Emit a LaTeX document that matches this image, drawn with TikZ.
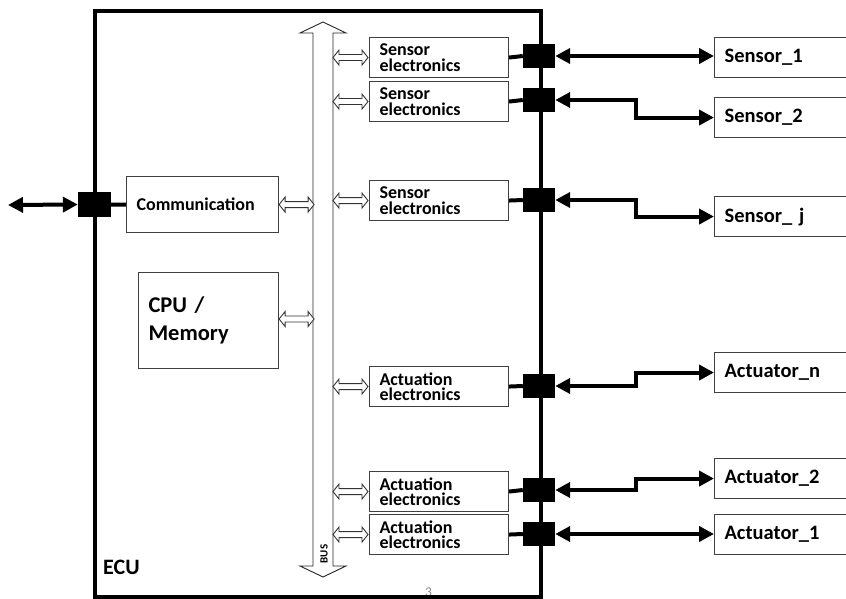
\documentclass[tikz,border=0pt]{standalone}
\usepackage{fontspec}
\setmainfont{Carlito}
\usetikzlibrary{arrows.meta,calc}

\tikzset{
  blk/.tip={Triangle[length=15pt,width=15pt]},
  thinbox/.style={draw=black!75, line width=1.1pt, inner ysep=0pt, inner xsep=10pt,
    align=left, anchor=north west},
  elec/.style={thinbox, text width=119pt, minimum height=40pt,
    font=\fontsize{18}{15.5}\selectfont\bfseries},
  dev/.style={thinbox, text width=160pt, minimum height=40pt,
    font=\fontsize{20.5}{24}\selectfont\bfseries},
  port/.style={fill=black, draw=none, minimum width=32pt, minimum height=24pt, inner sep=0pt},
  conn/.style={line width=4pt},
  dbl/.style={line width=4pt, arrows=blk-blk},
  frame/.style={line width=4.5pt},
  hollow/.style={draw=black!80, line width=0.9pt, fill=white, line join=miter},
}

% hollow double arrow, 35pt long, starting at its left tip
\newcommand\hollowdbl[1]{%
  \draw[hollow] #1 -- ++(6,-7.5) -- ++(0,4.5) -- ++(23,0) -- ++(0,-4.5)
    -- ++(6,7.5) -- ++(-6,7.5) -- ++(0,-4.5) -- ++(-23,0) -- ++(0,4.5) -- cycle;}

\begin{document}
\begin{tikzpicture}[x=1pt,y=-1pt]
\clip (0,0) rectangle (846,599);
\fill[white] (0,0) rectangle (846,599);

% page number
\node[anchor=base, text=black!45, font=\fontsize{13.5}{16}\selectfont, inner sep=0pt] (pg) at (428.5,596) {3};

% ECU frame
\draw[frame] (95,11) rectangle (541,597);
\node[anchor=base west, inner sep=0pt, font=\fontsize{22}{26}\selectfont\bfseries] (ecu) at (103,574) {ECU};

% internal bus
\coordinate (busL) at (313,300);
\coordinate (busR) at (333,300);
\draw[draw=black!85, line width=0.9pt, fill=white]
  (323,22) -- (346,33) -- (333,33) -- (333,566) -- (346,566) -- (323,577)
  -- (300,566) -- (313,566) -- (313,33) -- (300,33) -- cycle;
\node[rotate=90, inner sep=0pt, font=\fontsize{11}{13}\selectfont\bfseries] (bus) at (324,554) {BUS};

% left-hand blocks
\node[thinbox, text width=132pt, minimum height=56pt, font=\fontsize{18}{20}\selectfont\bfseries]
  (comm) at (126,176) {Communication};
\node[thinbox, text width=120pt, minimum height=96pt,
  font=\fontsize{22.5}{28}\selectfont\bfseries]
  (cpu) at (138,272) {CPU /\\Memory};

% electronics blocks
\node[elec] (se1) at (369,37)  {Sensor\\electronics};
\node[elec] (se2) at (369,81)  {Sensor\\electronics};
\node[elec] (se3) at (369,180) {Sensor\\electronics};
\node[elec] (ae1) at (369,366) {Actuation\\electronics};
\node[elec] (ae2) at (369,471) {Actuation\\electronics};
\node[elec] (ae3) at (369,514) {Actuation\\electronics};

% bus links
\hollowdbl{(comm.east)}
\hollowdbl{(cpu.east |- 0,319)}
\foreach \b in {se1,se2,se3,ae1,ae2,ae3}{\hollowdbl{(busR |- \b.west)}}

% connector ports on the frame
\node[port, minimum width=33pt, minimum height=25pt] (pl) at (94.5,204.5) {};
\node[port] (p1) at (539,56) {};
\node[port] (p2) at (539,100) {};
\node[port] (p3) at (539,200) {};
\node[port] (p4) at (539,386) {};
\node[port] (p5) at (539,490) {};
\node[port] (p6) at (539,534) {};

\draw[conn] (pl.east) -- (comm.west);
\coordinate (ext) at (8,205);
\draw[dbl] (ext) -- (pl.west);

\foreach \b/\p in {se1/p1,se2/p2,se3/p3,ae1/p4,ae2/p5,ae3/p6}{\draw[conn] (\b.east) -- (\p.west);}

% external devices
\node[dev] (s1) at (714,37)  {Sensor\_1};
\node[dev] (s2) at (714,97)  {Sensor\_2};
\node[dev] (sj) at (714,196) {Sensor\_ j};
\node[dev] (an) at (714,352) {Actuator\_n};
\node[dev] (a2) at (714,458) {Actuator\_2};
\node[dev] (a1) at (714,514) {Actuator\_1};

\draw[dbl] (p1.east) -- (p1.east -| s1.west);
\draw[dbl] (p2.east) -- ++(81,0) |- (s2.west);
\draw[dbl] (p3.east) -- ++(81,0) |- (sj.west);
\draw[dbl] (p4.east) -- ++(81,0) |- (an.west);
\draw[dbl] (p5.east) -- ++(81,0) |- (a2.west);
\draw[dbl] (p6.east) -- (p6.east -| a1.west);
\end{tikzpicture}
\end{document}
